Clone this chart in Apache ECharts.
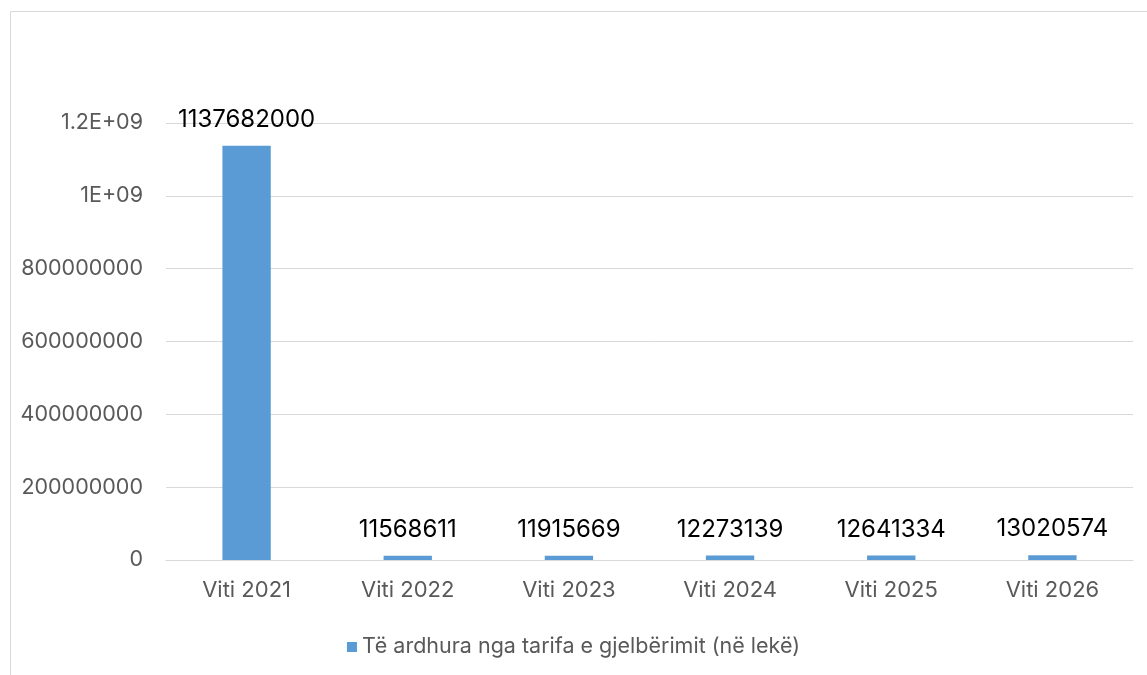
<!DOCTYPE html>
<html>
<head>
<meta charset="utf-8">
<script src="https://cdn.jsdelivr.net/npm/echarts@6/dist/echarts.min.js"></script>
<style>
  html, body { margin: 0; padding: 0; background: #fff; }
  #chart { width: 1147px; height: 675px; }
</style>
</head>
<body>
<div id="chart"></div>
<script>
// Data
const categories = ['Viti 2021', 'Viti 2022', 'Viti 2023', 'Viti 2024', 'Viti 2025', 'Viti 2026'];
const revenue = [1137682000, 11568611, 11915669, 12273139, 12641334, 13020574];
const seriesName = 'Të ardhura nga tarifa e gjelbërimit (në lekë)';

const font = 'Inter, "Open Sans", sans-serif';
const grey = '#595959';
const barColor = '#5B9BD5';

// Excel-style axis labels
function formatTick(v) {
  if (v >= 1e9) {
    return (v / 1e9) + 'E+09';
  }
  return String(v);
}

const chart = echarts.init(document.getElementById('chart'), null, { renderer: 'canvas' });

chart.setOption({
  backgroundColor: '#fff',
  animation: false,
  textStyle: { fontFamily: font },
  graphic: [{
    type: 'rect',
    shape: { x: 10.5, y: 11.5, width: 1200, height: 700 },
    style: { fill: 'none', stroke: '#D9D9D9', lineWidth: 1 },
    silent: true
  }],
  grid: { left: 166, right: 14, top: 123, bottom: 115 },
  legend: {
    bottom: 12,
    left: 'center',
    icon: 'rect',
    itemWidth: 10,
    itemHeight: 10,
    itemGap: 6,
    textStyle: { color: grey, fontSize: 21.5, fontFamily: font },
    data: [seriesName]
  },
  xAxis: {
    type: 'category',
    data: categories,
    axisLine: { lineStyle: { color: '#D9D9D9', width: 1 } },
    axisTick: { show: false },
    axisLabel: { color: grey, fontSize: 22, margin: 19, fontFamily: font }
  },
  yAxis: {
    type: 'value',
    min: 0,
    max: 1200000000,
    interval: 200000000,
    axisLine: { show: false },
    axisTick: { show: false },
    splitLine: { lineStyle: { color: '#D9D9D9', width: 1 } },
    axisLabel: {
      color: grey,
      fontSize: 21.5,
      margin: 23,
      fontFamily: font,
      formatter: formatTick
    }
  },
  series: [{
    name: seriesName,
    type: 'bar',
    data: revenue,
    barWidth: '30%',
    itemStyle: { color: barColor },
    label: {
      show: true,
      position: 'top',
      distance: 14,
      color: '#000',
      fontSize: 24,
      fontFamily: font
    }
  }]
});

window.addEventListener('resize', () => chart.resize());
</script>
</body>
</html>
